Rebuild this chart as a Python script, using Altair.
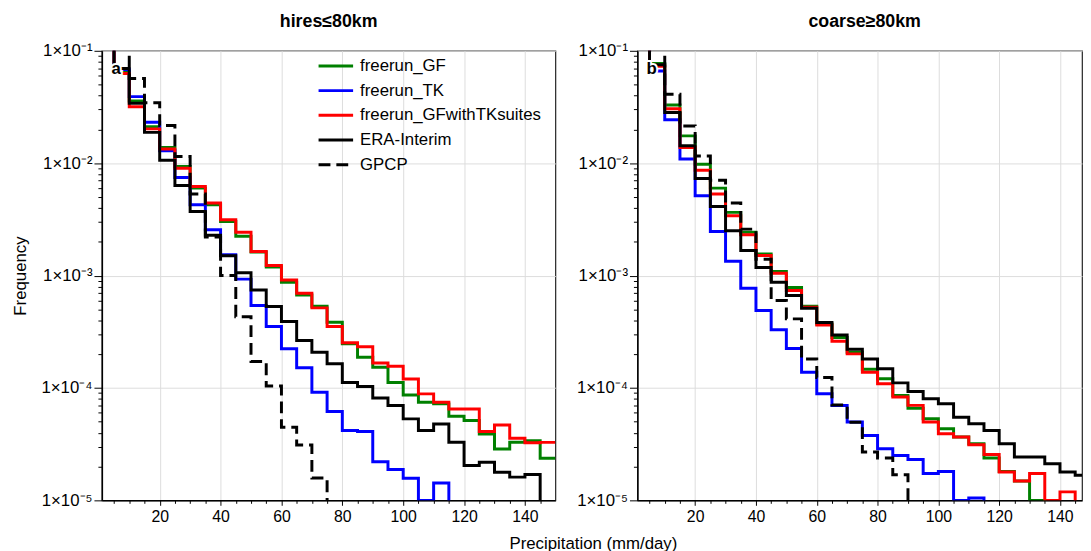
import altair as alt
import pandas as pd

# ---------------- data ----------------
SERIES = ["freerun_GF", "freerun_TK", "freerun_GFwithTKsuites", "ERA-Interim", "GPCP"]
COLORS = ["#008000", "#0000ff", "#ff0000", "#000000", "#000000"]
DASHES = [[1, 0], [1, 0], [1, 0], [1, 0], [12, 6]]
BIN_START = list(range(0, 150, 5))  # 5 mm/day bins, 0..145
BIN_END = 150

# values per bin; 0.3 = above the plotted range, 1e-7 = below it
hires_GF = [0.3, 0.066, 0.0357, 0.0211, 0.0138, 0.00933, 0.0060, 0.00427, 0.00303, 0.00224,
            0.00162, 0.00119, 0.000873, 0.000673, 0.000534, 0.000385, 0.000247, 0.000188, 0.000153, 0.000112,
            8.67e-5, 7.46e-5, 7.22e-5, 5.61e-5, 5.13e-5, 3.9e-5, 2.87e-5, 3.29e-5, 3.4e-5, 2.37e-5]
hires_TK = [0.3, 0.0683, 0.0391, 0.0231, 0.0129, 0.00747, 0.00427, 0.00256, 0.00153, 0.00093,
            0.000541, 0.000352, 0.000223, 0.000151, 9.17e-5, 6.17e-5, 4.18e-5, 4.09e-5, 2.21e-5, 1.88e-5,
            1.57e-5, 1.0e-5, 1.43e-5, 1e-7, 1e-7, 1e-7, 1e-7, 1e-7, 1e-7, 1e-7]
hires_GFTK = [0.3, 0.0629, 0.0318, 0.0202, 0.0134, 0.00903, 0.00621, 0.00442, 0.00314, 0.00243,
              0.00164, 0.00123, 0.000915, 0.000697, 0.000516, 0.000352, 0.000252, 0.000233, 0.000167, 0.000156,
              0.000120, 8.86e-5, 7.46e-5, 6.51e-5, 6.51e-5, 4.09e-5, 4.69e-5, 3.57e-5, 3.25e-5, 3.28e-5]
hires_ERA = [0.3, 0.0697, 0.0341, 0.0188, 0.0106, 0.00634, 0.00372, 0.00228, 0.00150, 0.00106,
             0.000745, 0.00053, 0.00039, 0.000264, 0.000208, 0.000164, 0.000112, 0.000103, 8.16e-5, 6.97e-5,
             5.31e-5, 4.18e-5, 4.79e-5, 3.29e-5, 2.04e-5, 2.18e-5, 1.78e-5, 1.61e-5, 1.70e-5, 1e-7]
hires_GPCP = [0.3, 0.3, 0.0568, 0.0345, 0.0216, 0.01146, 0.00531, 0.0022, 0.0010, 0.000431,
              0.000172, 0.000104, 4.48e-5, 3.11e-5, 1.58e-5, 1e-7, 1e-7, 1e-7, 1e-7, 1e-7,
              1e-7, 1e-7, 1e-7, 1e-7, 1e-7, 1e-7, 1e-7, 1e-7, 1e-7, 1e-7]

coarse_GF = [0.3, 0.0773, 0.033, 0.0175, 0.0098, 0.0060, 0.00365, 0.00243, 0.00156, 0.00109,
             0.000783, 0.000534, 0.000371, 0.000281, 0.000208, 0.000147, 0.000121, 8.57e-5, 6.6e-5, 5.32e-5,
             4.34e-5, 3.66e-5, 3.19e-5, 2.38e-5, 1.81e-5, 1.49e-5, 1.0e-5, 1e-7, 1e-7, 1e-7]
coarse_TK = [0.3, 0.066, 0.0243, 0.0109, 0.00513, 0.00247, 0.00134, 0.000773, 0.000489, 0.00033,
             0.000224, 0.000138, 8.87e-5, 6.99e-5, 4.97e-5, 3.78e-5, 2.88e-5, 2.51e-5, 2.31e-5, 1.73e-5,
             1.81e-5, 1.0e-5, 1.05e-5, 1e-7, 1e-7, 1e-7, 1e-7, 1e-7, 1e-7, 1e-7]
coarse_GFTK = [0.3, 0.073, 0.0305, 0.0138, 0.00867, 0.00531, 0.00341, 0.00231, 0.00151, 0.00105,
               0.000736, 0.000523, 0.000364, 0.00026, 0.000201, 0.000138, 0.000109, 8.3e-5, 7.0e-5, 4.97e-5,
               3.92e-5, 3.66e-5, 3.13e-5, 2.56e-5, 1.79e-5, 1.49e-5, 1.73e-5, 1.0e-5, 1.19e-5, 1e-7]
coarse_ERA = [0.3, 0.075, 0.0282, 0.0143, 0.00731, 0.00412, 0.0025, 0.00167, 0.00118, 0.000873,
              0.000664, 0.000513, 0.000382, 0.000296, 0.000221, 0.000181, 0.000148, 0.000111, 9.31e-5, 8.01e-5,
              7.23e-5, 5.5e-5, 4.8e-5, 4.19e-5, 3.19e-5, 2.43e-5, 2.43e-5, 2.12e-5, 1.79e-5, 1.67e-5]
coarse_GPCP = [0.3, 0.3, 0.041, 0.0214, 0.0116, 0.00706, 0.00442, 0.00259, 0.0014, 0.0006,
               0.000412, 0.000181, 0.000124, 7.06e-5, 4.95e-5, 2.69e-5, 2.38e-5, 1.69e-5, 1e-7, 1e-7,
               1e-7, 1e-7, 1e-7, 1e-7, 1e-7, 1e-7, 1e-7, 1e-7, 1e-7, 1e-7]

HIRES = dict(zip(SERIES, [hires_GF, hires_TK, hires_GFTK, hires_ERA, hires_GPCP]))
COARSE = dict(zip(SERIES, [coarse_GF, coarse_TK, coarse_GFTK, coarse_ERA, coarse_GPCP]))

X_TICKS = list(range(5, 150, 5))
Y_DECADES = [1e-5, 1e-4, 1e-3, 1e-2, 1e-1]
Y_LABELS = ["1×10⁻⁵", "1×10⁻⁴", "1×10⁻³", "1×10⁻²", "1×10⁻¹"]
Y_TICKS = [m * d for d in [1e-5, 1e-4, 1e-3, 1e-2] for m in range(1, 10)] + [1e-1]

FONT = "Liberation Sans"


def frame(vals):
    rows = []
    for s in SERIES:
        v = vals[s]
        for x0, f in zip(BIN_START, v):
            rows.append({"series": s, "x": x0, "freq": f})
        rows.append({"series": s, "x": BIN_END, "freq": v[-1]})
    return pd.DataFrame(rows)


is_dec = " || ".join(f"abs(datum.value - {d}) < {d / 100}" for d in Y_DECADES)
ylab_expr = " : ".join(f"abs(datum.value - {d}) < {d / 100} ? '{t}'" for d, t in zip(Y_DECADES, Y_LABELS)) + " : ''"
is_x20 = "datum.value % 20 == 0"


def panel(vals, title, tag, width, xmax, left, title_dx):
    df = frame(vals)
    legend = alt.Legend(orient="none", legendX=219.8, legendY=-1.7, title=None,
                        symbolType="M-1.15,0H1.15", symbolSize=924, symbolStrokeWidth=3,
                        labelFont=FONT, labelFontSize=17, labelColor="black",
                        labelOffset=7.5, rowPadding=0, padding=0, labelLimit=400) if left else None
    xaxis = alt.Axis(values=X_TICKS, labelExpr=f"{is_x20} ? datum.label : ''",
                     tickSize={"condition": {"test": is_x20, "value": 5}, "value": 3},
                     gridOpacity={"condition": {"test": is_x20, "value": 1}, "value": 0},
                     labelPadding=3,
                     title="Precipitation (mm/day)" if left else None,
                     titleX=497, titleY=43.5, titleBaseline="middle", titleAlign="center")
    yaxis = alt.Axis(values=Y_TICKS, labelExpr=ylab_expr, labelFontSize=17,
                     tickSize={"condition": {"test": is_dec, "value": 8}, "value": 4},
                     gridOpacity={"condition": {"test": is_dec, "value": 1}, "value": 0},
                     labelPadding=2,
                     title="Frequency" if left else None,
                     titleX=-82, titleBaseline="middle")
    lines = alt.Chart(df).mark_line(interpolate="step-after", clip=True, strokeWidth=3).encode(
        x=alt.X("x:Q", scale=alt.Scale(domain=[1, xmax], nice=False, zero=False), axis=xaxis),
        y=alt.Y("freq:Q", scale=alt.Scale(type="log", domain=[1e-5, 1e-1], nice=False), axis=yaxis),
        color=alt.Color("series:N", scale=alt.Scale(domain=SERIES, range=COLORS), legend=legend),
        strokeDash=alt.StrokeDash("series:N", scale=alt.Scale(domain=SERIES, range=DASHES), legend=legend),
    )
    tag_df = pd.DataFrame({"tag": [tag]})
    halo = alt.Chart(tag_df).mark_text(font=FONT, fontSize=17, fontWeight="bold", color="white",
                                       stroke="white", strokeWidth=4, align="center", baseline="middle").encode(
        x=alt.value(14.5), y=alt.value(18), text="tag:N")
    txt = alt.Chart(tag_df).mark_text(font=FONT, fontSize=17, fontWeight="bold", color="black",
                                      align="center", baseline="middle").encode(
        x=alt.value(14.5), y=alt.value(18), text="tag:N")
    return alt.layer(lines, halo, txt).properties(
        width=width, height=455,
        title=alt.TitleParams(title, font=FONT, fontSize=18, fontWeight="bold", color="black",
                              baseline="alphabetic", offset=-3, anchor="middle", dx=title_dx),
    )


left = panel(HIRES, "hires≤80km", "a", 459, 150, True, 0)
right = panel(COARSE, "coarse≥80km", "b", 450, 1 + 450 / 3.077, False, 5)

chart = alt.hconcat(left, right, spacing=83, bounds="flush").resolve_scale(
    color="independent", strokeDash="independent"
).properties(
    padding={"left": 3, "top": 1, "right": 0, "bottom": 0}
).configure_view(
    stroke="#222222", strokeWidth=1.2
).configure_axis(
    labelFont=FONT, labelFontSize=16, labelColor="black",
    domainColor="black", domainWidth=1.5, tickColor="black", tickWidth=1,
    gridColor="#dcdcdc", gridWidth=1,
    titleFont=FONT, titleFontSize=17, titleFontWeight="normal", titleColor="black",
)

chart.save("out.html", embed_options={"renderer": "svg", "actions": False})
